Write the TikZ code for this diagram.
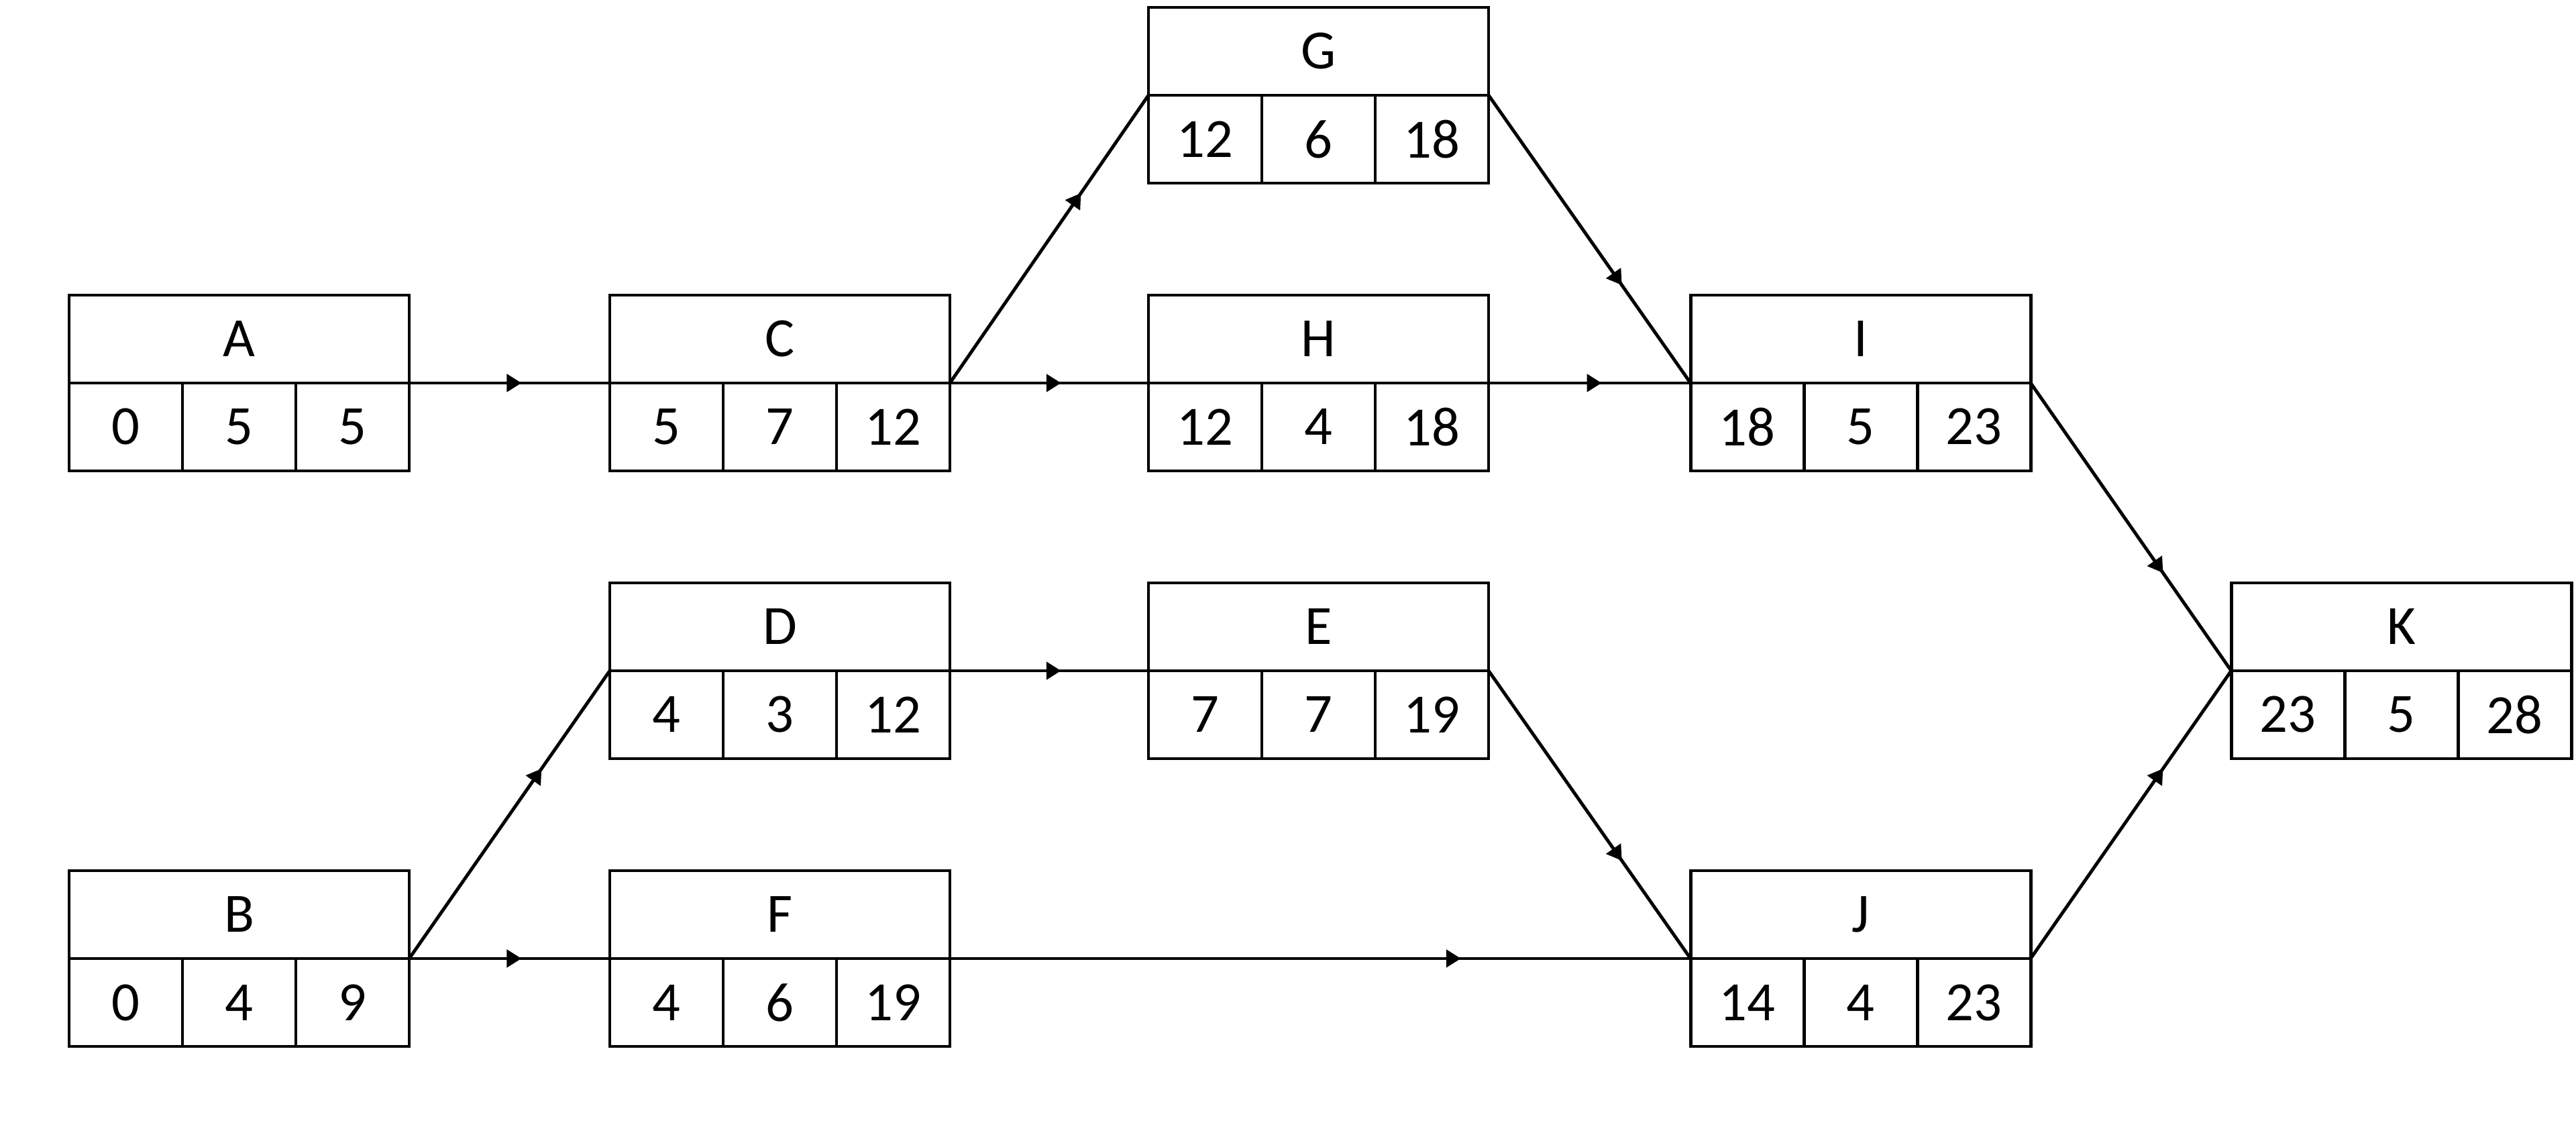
\documentclass[tikz,border=0pt]{standalone}
\usepackage{fontspec}
\setmainfont{Carlito}
\usepackage{tikz}
\usetikzlibrary{arrows.meta,positioning,decorations.markings}

\begin{document}
\begin{tikzpicture}[
  head/.style={draw,line width=1.4pt,inner sep=0pt,outer sep=0pt,
     minimum width=5.07cm,minimum height=1.31cm,font=\fontsize{23.5}{28}\selectfont},
  cell/.style={head,minimum width=1.69cm},
  arr/.style={line width=1.4pt,postaction={decorate},
     decoration={markings,mark=at position #1 with {\arrow{Triangle[length=2.2mm,width=2.6mm]}}}},
  arr/.default=0.56]
\useasboundingbox (0,0) rectangle (38.4,17.04);
% activity A
\node[head] (A) at (3.565,11.985) {A};
\node[cell,below right=0pt of A.south west] (A1) {0};
\node[cell,right=0pt of A1] (A2) {5};
\node[cell,right=0pt of A2] (A3) {5};
% activity B
\node[head] (B) at (3.565,3.405) {B};
\node[cell,below right=0pt of B.south west] (B1) {0};
\node[cell,right=0pt of B1] (B2) {4};
\node[cell,right=0pt of B2] (B3) {9};
% activity C
\node[head] (C) at (11.625,11.985) {C};
\node[cell,below right=0pt of C.south west] (C1) {5};
\node[cell,right=0pt of C1] (C2) {7};
\node[cell,right=0pt of C2] (C3) {12};
% activity D
\node[head] (D) at (11.625,7.695) {D};
\node[cell,below right=0pt of D.south west] (D1) {4};
\node[cell,right=0pt of D1] (D2) {3};
\node[cell,right=0pt of D2] (D3) {12};
% activity F
\node[head] (F) at (11.625,3.405) {F};
\node[cell,below right=0pt of F.south west] (F1) {4};
\node[cell,right=0pt of F1] (F2) {6};
\node[cell,right=0pt of F2] (F3) {19};
% activity G
\node[head] (G) at (19.655,16.275) {G};
\node[cell,below right=0pt of G.south west] (G1) {12};
\node[cell,right=0pt of G1] (G2) {6};
\node[cell,right=0pt of G2] (G3) {18};
% activity H
\node[head] (H) at (19.655,11.985) {H};
\node[cell,below right=0pt of H.south west] (H1) {12};
\node[cell,right=0pt of H1] (H2) {4};
\node[cell,right=0pt of H2] (H3) {18};
% activity E
\node[head] (E) at (19.655,7.695) {E};
\node[cell,below right=0pt of E.south west] (E1) {7};
\node[cell,right=0pt of E1] (E2) {7};
\node[cell,right=0pt of E2] (E3) {19};
% activity I
\node[head] (I) at (27.735,11.985) {I};
\node[cell,below right=0pt of I.south west] (I1) {18};
\node[cell,right=0pt of I1] (I2) {5};
\node[cell,right=0pt of I2] (I3) {23};
% activity J
\node[head] (J) at (27.735,3.405) {J};
\node[cell,below right=0pt of J.south west] (J1) {14};
\node[cell,right=0pt of J1] (J2) {4};
\node[cell,right=0pt of J2] (J3) {23};
% activity K
\node[head] (K) at (35.795,7.695) {K};
\node[cell,below right=0pt of K.south west] (K1) {23};
\node[cell,right=0pt of K1] (K2) {5};
\node[cell,right=0pt of K2] (K3) {28};
% precedences
\draw[arr] (A.south east) -- (C.south west);
\draw[arr=0.66] (C.south east) -- (G.south west);
\draw[arr] (C.south east) -- (H.south west);
\draw[arr=0.66] (G.south east) -- (I.south west);
\draw[arr] (H.south east) -- (I.south west);
\draw[arr=0.66] (I.south east) -- (K.south west);
\draw[arr=0.66] (B.south east) -- (D.south west);
\draw[arr] (B.south east) -- (F.south west);
\draw[arr] (D.south east) -- (E.south west);
\draw[arr=0.66] (E.south east) -- (J.south west);
\draw[arr=0.69] (F.south east) -- (J.south west);
\draw[arr=0.66] (J.south east) -- (K.south west);
\end{tikzpicture}
\end{document}
